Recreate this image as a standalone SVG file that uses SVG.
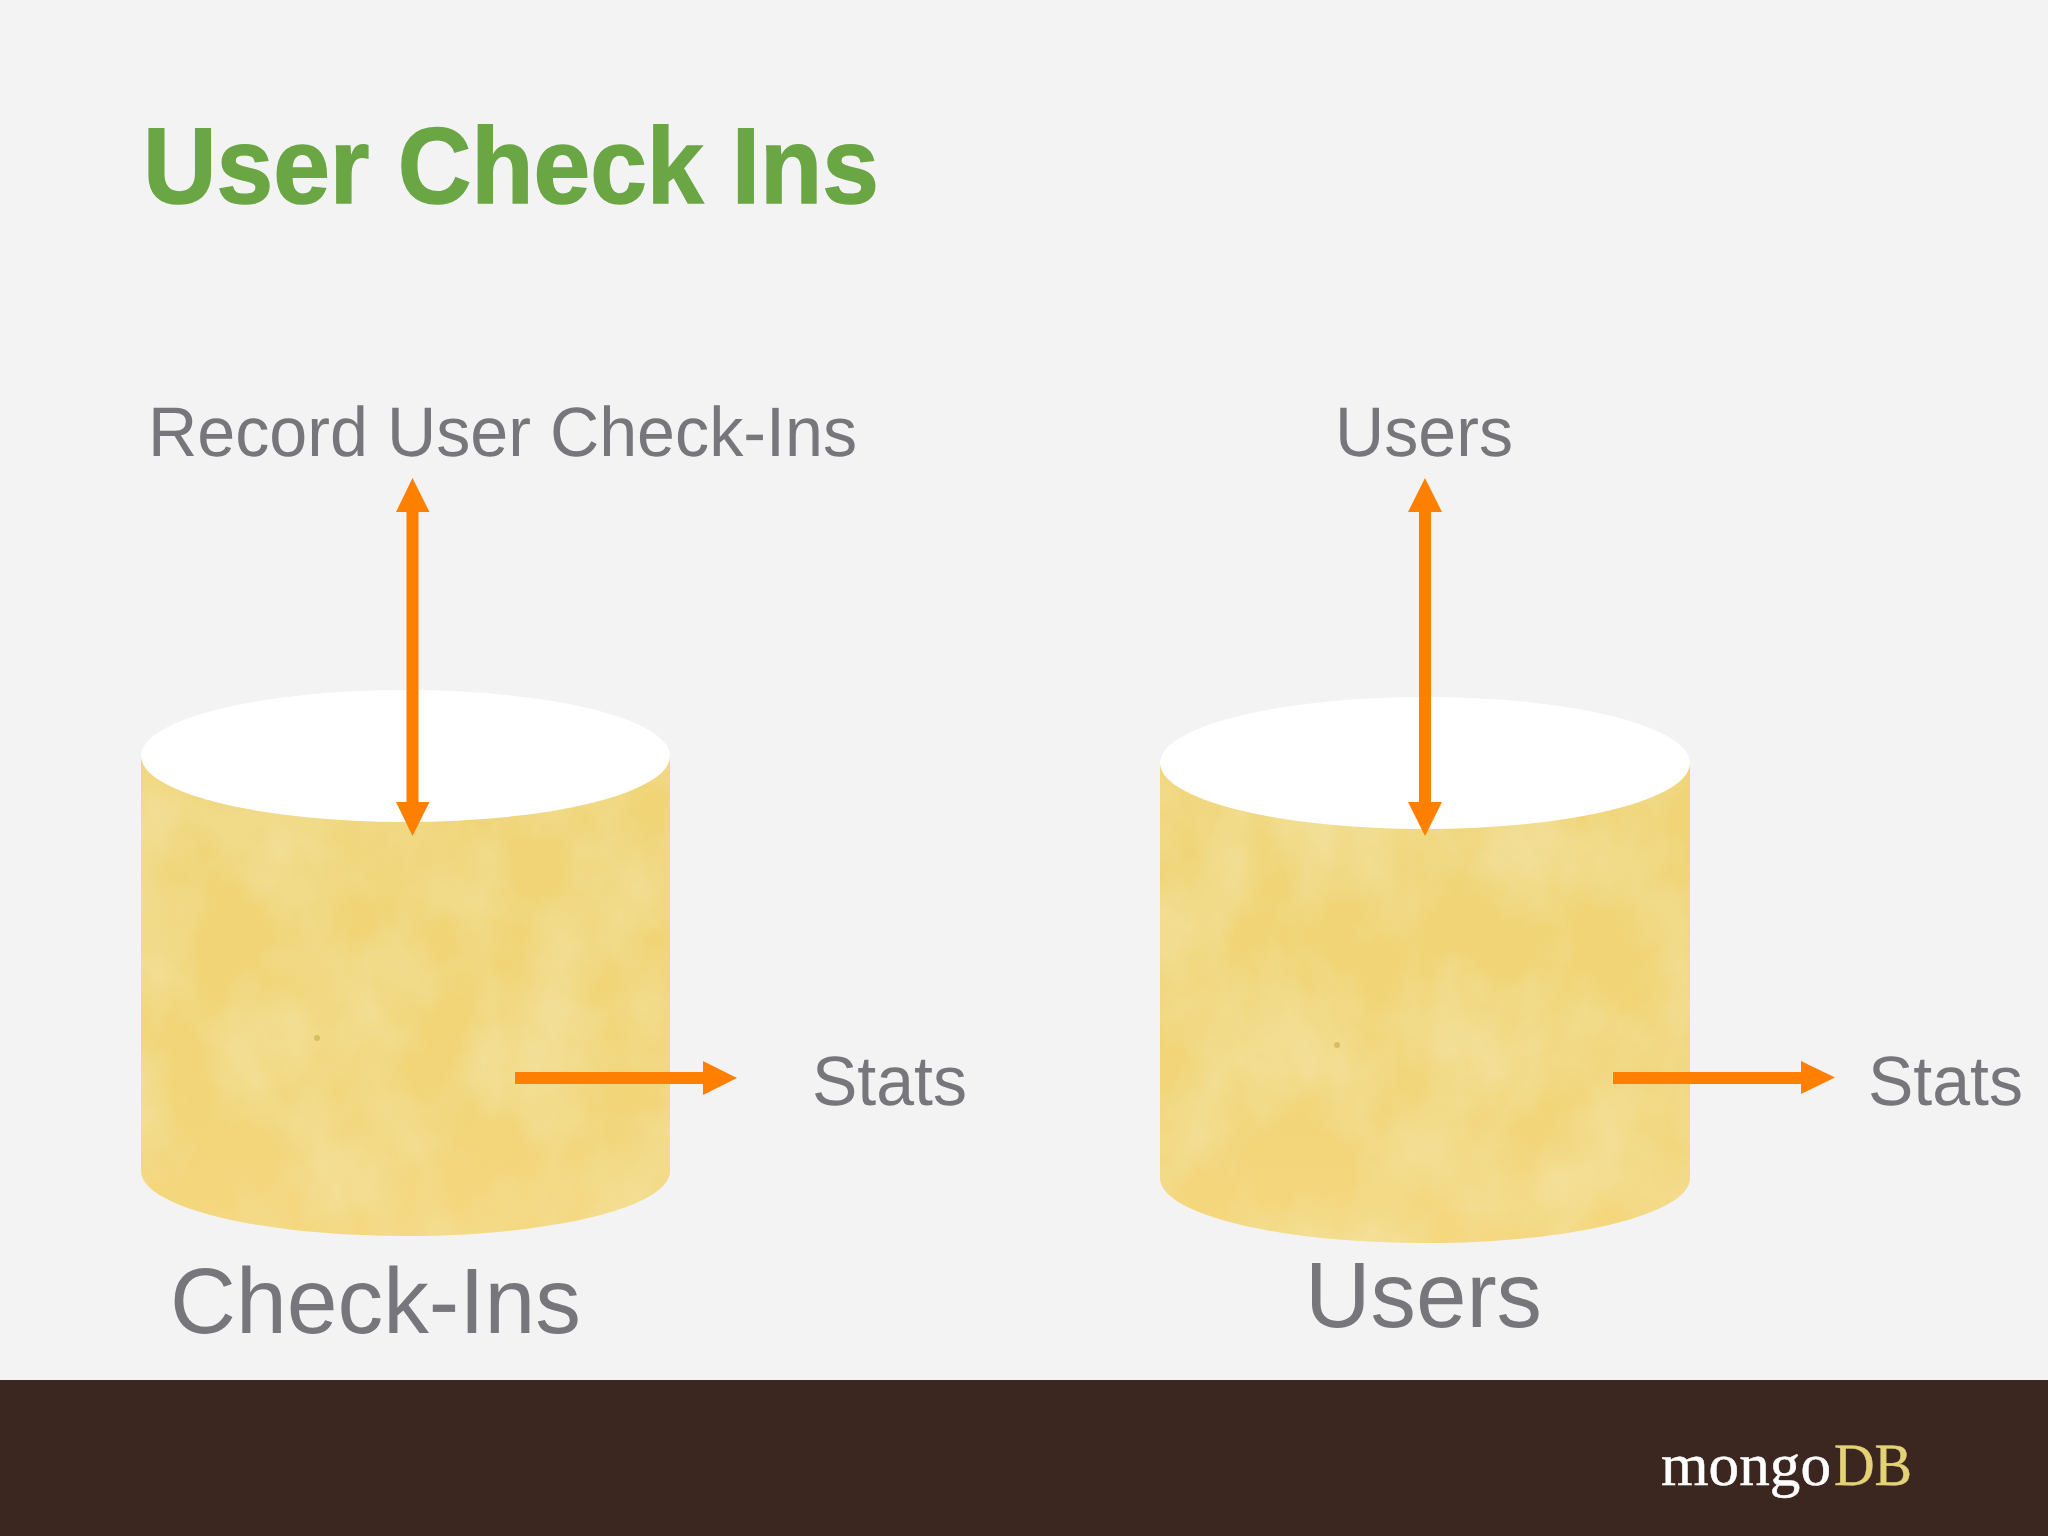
<svg xmlns="http://www.w3.org/2000/svg" width="2048" height="1536" viewBox="0 0 2048 1536" text-rendering="geometricPrecision">
<style>
.t{font-family:"Liberation Sans",Arial,sans-serif;fill:#77767a}
.s{font-size:70px}
.b{font-size:93px}
.top{fill:#fff}
.arrow{fill:none;stroke:#ff7f00;stroke-width:12}
.head{fill:#ff7f00}
</style>
<defs>
<filter id="mottle" x="0" y="0" width="100%" height="100%">
<feTurbulence type="fractalNoise" baseFrequency="0.012 0.009" numOctaves="4" seed="11" result="n"/>
<feColorMatrix in="n" type="matrix" values="0 0 0 0 0.89  0 0 0 0 0.78  0 0 0 0 0.37  1.3 0 0 0 -0.42"/>
<feComposite in2="SourceAlpha" operator="in" result="m"/>
<feMerge><feMergeNode in="SourceGraphic"/><feMergeNode in="m"/></feMerge>
</filter>
<linearGradient id="body" x1="0" y1="0" x2="0" y2="1">
<stop offset="0" stop-color="#f0d476"/><stop offset="0.7" stop-color="#f2d578"/><stop offset="1" stop-color="#f5d77e"/>
</linearGradient>
</defs>
<rect width="2048" height="1536" fill="#f3f3f4"/>
<rect id="footer" y="1380" width="2048" height="156" fill="#3b2720"/>
<text id="title" x="143" y="203" font-family="'Liberation Sans',Arial,sans-serif" font-weight="700" font-size="108" fill="#6ba644" stroke="#6ba644" stroke-width="1.5" textLength="736" lengthAdjust="spacingAndGlyphs">User Check Ins</text>
<g id="logo" font-family="'Liberation Serif','Times New Roman',serif" font-size="60">
<text x="1661" y="1485" fill="#fff" stroke="#fff" stroke-width="0.5" textLength="170" lengthAdjust="spacingAndGlyphs">mongo</text>
<text x="1834" y="1485" fill="#e3d276" stroke="#e3d276" stroke-width="0.5" textLength="78" lengthAdjust="spacingAndGlyphs">DB</text>
</g>
<g id="checkins-db">
<path fill="url(#body)" filter="url(#mottle)" d="M141 756V1171C141 1207 259 1236 405 1236S670 1207 670 1171V756Z"/>
<ellipse class="top" cx="405.500" cy="756" rx="264.500" ry="66"/>
<circle cx="317" cy="1038" r="3" fill="#d9bd62"/>
<text class="t b" x="170" y="1333" textLength="411" lengthAdjust="spacingAndGlyphs">Check-Ins</text>
</g>
<g id="users-db">
<path fill="url(#body)" filter="url(#mottle)" d="M1160 763V1178C1160 1214 1278 1243 1425 1243S1690 1214 1690 1178V763Z"/>
<ellipse class="top" cx="1425" cy="763" rx="265" ry="66"/>
<circle cx="1337" cy="1045" r="3" fill="#d9bd62"/>
<text class="t b" x="1305" y="1327" textLength="237" lengthAdjust="spacingAndGlyphs">Users</text>
</g>
<g id="record-label"><text class="t s" x="148" y="456" textLength="709" lengthAdjust="spacingAndGlyphs">Record User Check-Ins</text></g>
<g id="users-label"><text class="t s" x="1335" y="456" textLength="178" lengthAdjust="spacingAndGlyphs">Users</text></g>
<g id="stats-left"><text class="t s" x="812" y="1105" textLength="155" lengthAdjust="spacingAndGlyphs">Stats</text></g>
<g id="stats-right"><text class="t s" x="1868" y="1105" textLength="155" lengthAdjust="spacingAndGlyphs">Stats</text></g>
<g id="connectors">
<path class="arrow" d="M412.500 510V804"/>
<polygon class="head" points="412.500,478 396,512 429.500,512"/>
<polygon class="head" points="396,802 429.500,802 412.500,836"/>
<path class="arrow" d="M515 1078H705"/>
<polygon class="head" points="703,1061 737,1078 703,1095"/>
<path class="arrow" d="M1425 510V804"/>
<polygon class="head" points="1425,478 1408,512 1442,512"/>
<polygon class="head" points="1408,802 1442,802 1425,836"/>
<path class="arrow" d="M1613 1078H1803"/>
<polygon class="head" points="1801,1061 1835,1077.500 1801,1094"/>
</g>
</svg>
